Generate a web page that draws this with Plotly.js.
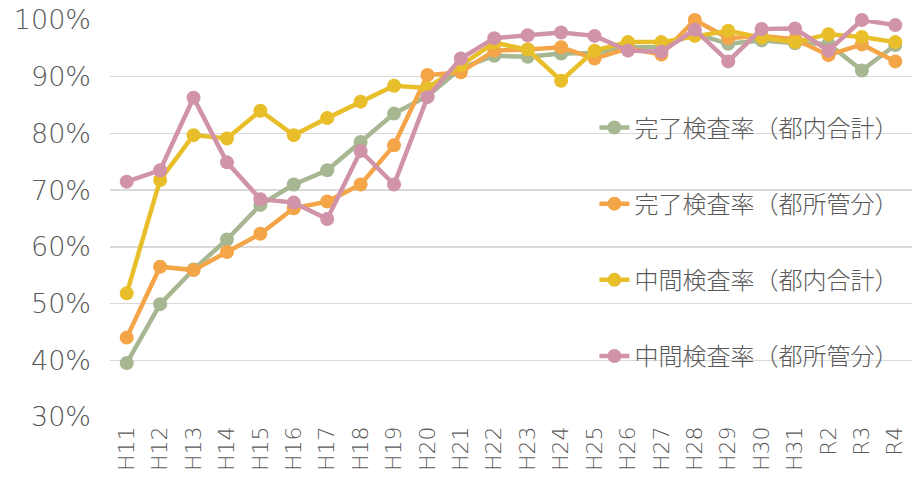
<!DOCTYPE html>
<html>
<head>
<meta charset="utf-8">
<script src="https://cdn.plot.ly/plotly-3.0.1.min.js"></script>
<style>html,body{margin:0;padding:0;background:#fff;}#chart{width:922px;height:485px;}</style>
</head>
<body>
<div id="chart"></div>
<script>
const categories = ['H11','H12','H13','H14','H15','H16','H17','H18','H19','H20','H21','H22','H23','H24','H25','H26','H27','H28','H29','H30','H31','R2','R3','R4'];
const seriesNames = ['完了検査率（都内合計）','完了検査率（都所管分）','中間検査率（都内合計）','中間検査率（都所管分）'];
const completionTotal = [39.5,49.9,56.0,61.3,67.4,71.0,73.5,78.5,83.5,86.6,91.5,93.7,93.5,94.1,94.2,95.2,95.2,97.6,95.8,96.4,95.9,95.8,91.1,95.6];
const completionMetro = [44.0,56.5,55.9,59.1,62.3,66.8,68.0,71.0,77.9,90.3,90.8,94.6,94.8,95.2,93.2,95.0,93.9,100.0,96.8,97.2,96.6,93.8,95.7,92.7];
const interimTotal = [51.8,71.8,79.7,79.1,84.0,79.7,82.7,85.6,88.4,88.0,92.0,96.0,94.8,89.3,94.6,96.1,96.1,97.2,98.1,96.9,96.1,97.5,97.0,96.1];
const interimMetro = [71.5,73.5,86.3,74.9,68.4,67.8,64.9,76.9,71.0,86.4,93.2,96.8,97.3,97.8,97.2,94.6,94.4,98.3,92.7,98.4,98.5,94.6,100.0,99.1];
const yTicks = [30,40,50,60,70,80,90,100];

const colors = ['#a6b792','#f3a548','#e8bf2b','#d093a8'];
const values = [completionTotal, completionMetro, interimTotal, interimMetro];

const traces = values.map((v, i) => ({
  type: 'scatter',
  mode: 'lines+markers',
  x: categories,
  y: v,
  name: seriesNames[i],
  legendgroup: 'g' + i,
  cliponaxis: false,
  line: {color: colors[i], width: 4.5},
  marker: {color: colors[i], size: 14}
}));

const layout = {
  width: 922,
  height: 485,
  margin: {l: 110, r: 10, t: 20, b: 68},
  paper_bgcolor: '#fff',
  plot_bgcolor: '#fff',
  showlegend: true,
  legend: {
    x: 0.604, xanchor: 'left',
    y: 0.785, yanchor: 'top',
    bgcolor: 'rgba(0,0,0,0)',
    traceorder: 'grouped',
    tracegroupgap: 42,
    font: {family: '"Noto Sans CJK JP", sans-serif', size: 24, color: '#595959', weight: 300}
  },
  xaxis: {
    type: 'category',
    tickangle: -90,
    showgrid: false,
    zeroline: false,
    showline: false,
    ticks: '',
    ticklabelstandoff: 4,
    tickfont: {family: '"DejaVu Sans", sans-serif', size: 22, color: '#595959', weight: 200},
    range: [-0.5, categories.length - 0.5]
  },
  yaxis: {
    range: [30, 100],
    tickvals: yTicks,
    ticktext: yTicks.map(t => t + '%'),
    showgrid: true,
    gridcolor: '#d9d9d9',
    gridwidth: 1.5,
    zeroline: false,
    showline: false,
    ticks: '',
    ticklabelstandoff: 18,
    tickfont: {family: '"DejaVu Sans", sans-serif', size: 27, color: '#595959', weight: 200}
  }
};

Plotly.newPlot('chart', traces, layout, {displayModeBar: false, staticPlot: true});
</script>
</body>
</html>
